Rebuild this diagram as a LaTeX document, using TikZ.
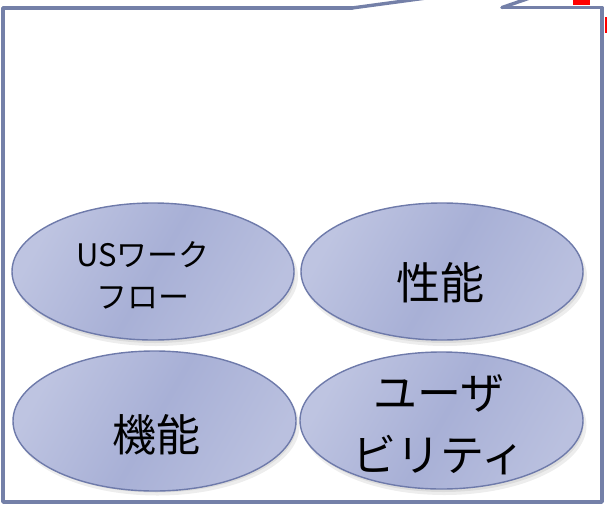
\documentclass[tikz,border=0pt]{standalone}
\usepackage{fontspec}
\newfontfamily\jpfont{Noto Sans CJK JP}
\usetikzlibrary{shapes.geometric}
\definecolor{framec}{HTML}{7480A8}
\definecolor{ellborder}{HTML}{6E7AAA}
\definecolor{elllight}{HTML}{BEC4E1}
\definecolor{ellmid}{HTML}{A8B0D6}
\definecolor{markred}{HTML}{FF0000}
\tikzset{
  bubble/.style={ellipse, draw=ellborder, line width=1.4pt, inner sep=0pt,
    minimum width=282pt, minimum height=137pt,
    left color=elllight, right color=elllight!80!ellmid, middle color=ellmid, shading angle=60},
  shade1/.style={ellipse, fill=black, fill opacity=0.07, draw=none, inner sep=0pt,
    minimum width=284pt, minimum height=139pt},
  shade2/.style={ellipse, fill=black, fill opacity=0.07, draw=none, inner sep=0pt,
    minimum width=280pt, minimum height=135pt},
  bigtxt/.style={font=\jpfont\fontsize{44}{62}\selectfont, align=center, inner sep=0pt},
  smalltxt/.style={font=\jpfont\fontsize{31}{42}\selectfont, align=center, inner sep=0pt},
  frameline/.style={draw=framec, line width=3.4pt, line join=round, line cap=round}
}
\begin{document}
\begin{tikzpicture}[x=1pt,y=-1pt]
\useasboundingbox (0,0) rectangle (607,506);
\begin{scope}
\clip (0,0) rectangle (607,506);
% callout frame
\coordinate (tip) at (597,-25);
\coordinate (c1) at (352,8);
\coordinate (c2) at (502,7.5);
\coordinate (tl) at (3,8);
\coordinate (tr) at (602,7.5);
\coordinate (bl) at (3,502);
\coordinate (br) at (602,502);
\draw[frameline] (c1) -- (tl) -- (bl) -- (br) -- (tr) -- (c2);
\draw[frameline] (c1) -- (tip);
\draw[frameline] (c2) -- (tip);
% red marks
\fill[markred] (573,0) rectangle (590,5);
\fill[markred] (605,17) rectangle (607,33);
% shadows
\foreach \cx/\cy/\n in {153/271.5/a,442/271.5/b,154.5/421/c,441.5/420.5/d}{
  \node[shade1] (s1\n) at (\cx+3,\cy+5) {};
  \node[shade2] (s2\n) at (\cx+2,\cy+4) {};
}
% ellipses
\node[bubble] (e1) at (153,271.5) {};
\node[bubble] (e2) at (442,271.5) {};
\node[bubble, minimum height=140pt, minimum width=283pt] (e3) at (154.5,421) {};
\node[bubble, minimum height=137pt, minimum width=283pt] (e4) at (441.5,420.5) {};
% texts
\node[smalltxt] (t1) at (143,275) {USワーク\\フロー};
\node[bigtxt] (t2) at (440,283) {性能};
\node[bigtxt] (t3) at (156,435) {機能};
\node[bigtxt] (t4) at (439,425) {ユーザ\\ビリティ};
\end{scope}
\end{tikzpicture}
\end{document}
